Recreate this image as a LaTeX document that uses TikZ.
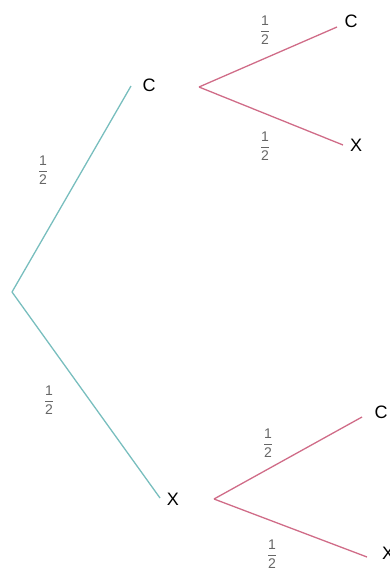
\documentclass[tikz,border=0pt]{standalone}
\usepackage{fontspec}
\setmainfont{Liberation Sans}
\usepackage{tikz}
\usetikzlibrary{positioning}

\definecolor{firsttoss}{HTML}{78BEBE}
\definecolor{secondtoss}{HTML}{D06C88}
\newcommand{\half}{$\displaystyle\frac{\mbox{1}}{\mbox{2}}$}

\begin{document}
\begin{tikzpicture}[
			x=1pt, y=-1pt,
			outcome/.style={inner sep=0pt, font=\fontsize{18}{20}\selectfont},
			prob/.style={inner sep=0pt, text=black!60, font=\fontsize{14}{16}\selectfont},
			first/.style={draw=firsttoss, line width=1.3pt},
			second/.style={draw=secondtoss, line width=1.3pt},
		]
		\useasboundingbox (0,0) rectangle (390,573);

		\coordinate (root) at (12,292);

		% first toss
		\node[outcome] (c)  at (149,85)  {C};
		\node[outcome] (x)  at (173,499) {X};
		\coordinate (c-in)  at (131,86);
		\coordinate (c-out) at (199,87);
		\coordinate (x-in)  at (160,498);
		\coordinate (x-out) at (214,499);

		\draw[first] (root) -- (c-in);
		\draw[first] (root) -- (x-in);
		\node[prob] (p-c) at (43,170) {\half};
		\node[prob] (p-x) at (49,400) {\half};

		% second toss after C
		\node[outcome] (cc) at (351,21)  {C};
		\node[outcome] (cx) at (356,145) {X};
		\coordinate (cc-in) at (337,27);
		\coordinate (cx-in) at (343,145);
		\draw[second] (c-out) -- (cc-in);
		\draw[second] (c-out) -- (cx-in);
		\node[prob] (p-cc) at (265,30)  {\half};
		\node[prob] (p-cx) at (265,146) {\half};

		% second toss after X
		\node[outcome] (xc) at (381,412) {C};
		\node[outcome] (xx) at (388,553) {X};
		\coordinate (xc-in) at (362,417);
		\coordinate (xx-in) at (367,557);
		\draw[second] (x-out) -- (xc-in);
		\draw[second] (x-out) -- (xx-in);
		\node[prob] (p-xc) at (268,443) {\half};
		\node[prob] (p-xx) at (272,554) {\half};

	\end{tikzpicture}
\end{document}
